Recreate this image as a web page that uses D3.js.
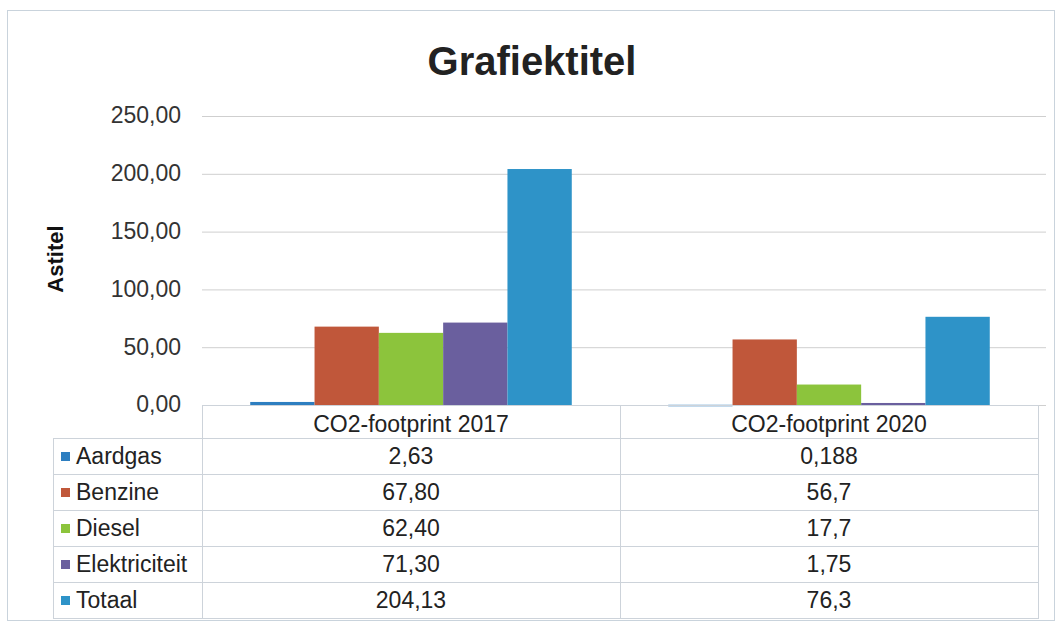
<!DOCTYPE html>
<html><head><meta charset="utf-8">
<script src="https://cdn.jsdelivr.net/npm/d3@7"></script>
<style>body{margin:0;background:#fff}svg{display:block}text{font-family:"Liberation Sans",Arial,sans-serif}</style>
</head><body><svg id="c" width="1060" height="628"></svg>
<script>
const categories = ["CO2-footprint 2017", "CO2-footprint 2020"];
const seriesNames = ["Aardgas", "Benzine", "Diesel", "Elektriciteit", "Totaal"];
const values2017 = [2.63, 67.80, 62.40, 71.30, 204.13];
const values2020 = [0.188, 56.7, 17.7, 1.75, 76.3];
const labels2017 = ["2,63", "67,80", "62,40", "71,30", "204,13"];
const labels2020 = ["0,188", "56,7", "17,7", "1,75", "76,3"];
const yTicks = [0, 50, 100, 150, 200, 250];
const colors = ["#2d7ec0", "#c0573a", "#8cc43c", "#6a5f9e", "#2e93c8"];

const FS = 23;
const svg = d3.select("#c");
svg.append("rect").attr("x",7.5).attr("y",10.5).attr("width",1047).attr("height",610)
  .attr("fill","#fff").attr("stroke","#c9d3dc").attr("stroke-width",1);

svg.append("text").attr("x",532).attr("y",75).attr("text-anchor","middle")
  .attr("font-size",40).attr("font-weight","bold").attr("fill","#222").text("Grafiektitel");

const x0 = d3.scaleBand().domain(categories).range([202,1038]).paddingInner(0).paddingOuter(0);
const x1 = d3.scaleBand().domain(seriesNames).range([0,x0.bandwidth()]).paddingInner(0).paddingOuter(0.75);
const y = d3.scaleLinear().domain([0,250]).range([405,116]);

// gridlines
svg.append("g").selectAll("line").data(yTicks).join("line")
  .attr("x1",202).attr("x2",1046).attr("y1",d=>y(d)+0.5).attr("y2",d=>y(d)+0.5)
  .attr("stroke","#cfcfcf").attr("stroke-width",1);

// y axis
const yAxis = d3.axisLeft(y).tickValues(yTicks).tickSize(0).tickPadding(0)
  .tickFormat(d=>d3.format(".2f")(d).replace(".",","));
const ga = svg.append("g").attr("transform","translate(181,0)").call(yAxis);
ga.select(".domain").remove();
ga.selectAll("text").attr("font-size",FS).attr("fill","#333").attr("dy","0.3em")
  .attr("font-family",'"Liberation Sans",Arial,sans-serif');

svg.append("text").attr("transform","translate(63,259) rotate(-90)").attr("text-anchor","middle")
  .attr("font-size",22).attr("font-weight","bold").attr("fill","#111").text("Astitel");

// bars
const data = [values2017, values2020];
const groups = svg.append("g").selectAll("g").data(categories).join("g")
  .attr("transform",d=>`translate(${x0(d)},0)`);
groups.selectAll("rect").data((d,i)=>seriesNames.map((s,j)=>({s,v:data[i][j],j})))
  .join("rect")
  .attr("x",d=>x1(d.s)).attr("width",x1.bandwidth())
  .attr("y",d=>y(d.v)).attr("height",d=>Math.max(y(0)-y(d.v), d.v>0?1.5:0))
  .attr("fill",d=>colors[d.j]);

// table
const rowTop = 405, headerH = 33, rowH = 36;
const tLeft = 53, tMid = 202, tRight = 1038;
const tg = svg.append("g");
const lc = "#cdd3da";
tg.append("rect").attr("x",tMid+0.5).attr("y",rowTop+0.5).attr("width",tRight-tMid).attr("height",headerH)
  .attr("fill","none").attr("stroke",lc);
categories.forEach(c=>{
  tg.append("text").attr("x",x0(c)+x0.bandwidth()/2).attr("y",rowTop+27)
    .attr("text-anchor","middle").attr("font-size",FS).attr("fill","#222").text(c);
});
tg.append("line").attr("x1",x0(categories[1])+0.5).attr("x2",x0(categories[1])+0.5)
  .attr("y1",rowTop).attr("y2",rowTop+headerH+rowH*5).attr("stroke",lc);
const labelsAll = [labels2017, labels2020];
seriesNames.forEach((s,i)=>{
  const ry = rowTop+headerH+i*rowH;
  tg.append("rect").attr("x",tLeft+0.5).attr("y",ry+0.5).attr("width",tRight-tLeft).attr("height",rowH)
    .attr("fill","none").attr("stroke",lc);
  tg.append("rect").attr("x",61).attr("y",ry+rowH/2-4).attr("width",9).attr("height",9).attr("fill",colors[i]);
  tg.append("text").attr("x",76).attr("y",ry+rowH/2+8).attr("font-size",FS).attr("fill","#222").text(s);
  categories.forEach((c,k)=>{
    tg.append("text").attr("x",x0(c)+x0.bandwidth()/2).attr("y",ry+rowH/2+8)
      .attr("text-anchor","middle").attr("font-size",FS).attr("fill","#222").text(labelsAll[k][i]);
  });
});
tg.append("line").attr("x1",tMid+0.5).attr("x2",tMid+0.5).attr("y1",rowTop+headerH).attr("y2",rowTop+headerH+rowH*5).attr("stroke",lc);
</script></body></html>
